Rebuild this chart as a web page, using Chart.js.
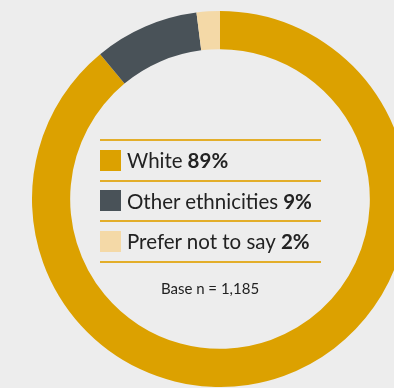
<!DOCTYPE html>
<html>
<head>
<meta charset="utf-8">
<script src="https://cdn.jsdelivr.net/npm/chart.js@4/dist/chart.umd.min.js"></script>
<style>
  html, body { margin: 0; padding: 0; width: 394px; height: 388px; overflow: hidden; background: #ededed; }
  #wrap { position: absolute; left: 32px; top: 11px; width: 376px; height: 376px; }
  #legend { position: absolute; left: 100px; top: 139px; width: 221px; font-family: Lato, "Open Sans", sans-serif; color: #222; }
  .line { height: 2px; background: #e3ae2a; }
  .row { height: 38.5px; display: flex; align-items: center; font-size: 20.5px; }
  .sw { width: 21px; height: 21px; margin-right: 6px; flex: none; }
  .row b { font-weight: 700; margin-left: 5px; }
  #base { position: absolute; left: 110px; width: 200px; top: 279px; text-align: center; font-family: Lato, "Open Sans", sans-serif; font-size: 15px; color: #222; }
</style>
</head>
<body>
<div id="wrap"><canvas id="c"></canvas></div>
<div id="legend"></div>
<div id="base"></div>
<script>
const categories = ["White", "Other ethnicities", "Prefer not to say"];
const values = [89, 9, 2];
const colors = ["#dca100", "#495258", "#f4d9a7"];
const baseText = "Base n = 1,185";

new Chart(document.getElementById("c"), {
  type: "doughnut",
  data: {
    labels: categories,
    datasets: [{ data: values, backgroundColor: colors, borderWidth: 0 }]
  },
  options: {
    responsive: true,
    maintainAspectRatio: false,
    animation: false,
    cutout: "79.7%",
    layout: { padding: 0 },
    plugins: { legend: { display: false }, tooltip: { enabled: false } },
    events: []
  }
});

const legend = document.getElementById("legend");
function addLine() {
  const l = document.createElement("div");
  l.className = "line";
  legend.appendChild(l);
}
categories.forEach((cat, i) => {
  addLine();
  const row = document.createElement("div");
  row.className = "row";
  const sw = document.createElement("span");
  sw.className = "sw";
  sw.style.background = colors[i];
  const t = document.createElement("span");
  t.textContent = cat;
  const b = document.createElement("b");
  b.textContent = values[i] + "%";
  row.appendChild(sw); row.appendChild(t); row.appendChild(b);
  legend.appendChild(row);
});
addLine();
document.getElementById("base").textContent = baseText;
</script>
</body>
</html>
